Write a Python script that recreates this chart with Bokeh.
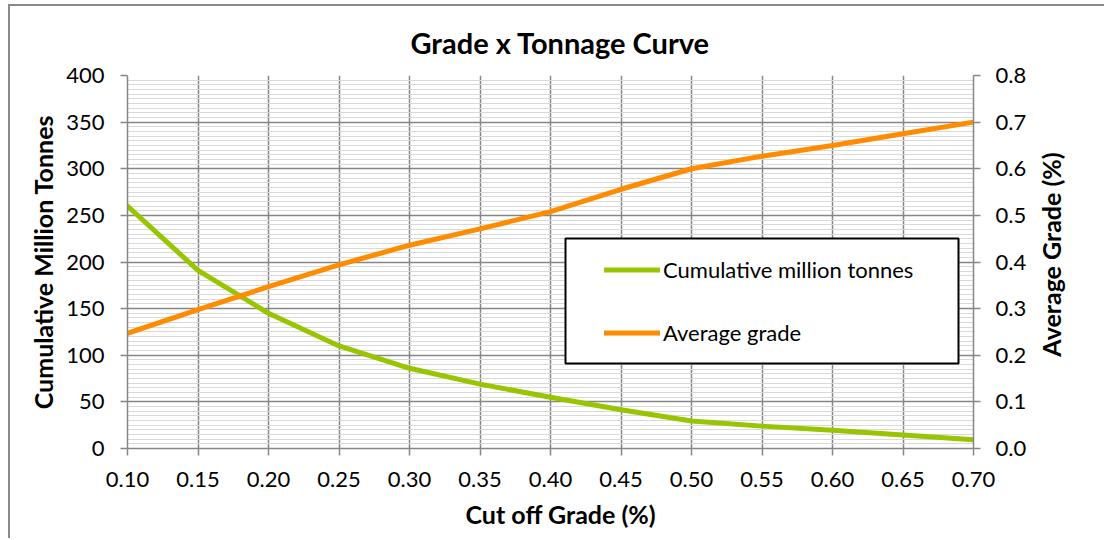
import math
import numpy as np
from bokeh.plotting import figure
from bokeh.models import (LinearAxis, Range1d, FixedTicker, PrintfTickFormatter,
                          Legend, LegendItem, BoxAnnotation, Title, Label)
from bokeh.embed import file_html
from bokeh.resources import INLINE

# ---- data ----
cutoff = [0.10, 0.15, 0.20, 0.25, 0.30, 0.35, 0.40, 0.45, 0.50, 0.55, 0.60, 0.65, 0.70]
tonnes = [260, 191, 145, 110, 86, 69, 55, 41.5, 29.5, 24, 19.5, 14.5, 9.5]
grade = [0.247, 0.298, 0.347, 0.394, 0.436, 0.471, 0.508, 0.556, 0.600, 0.627, 0.650, 0.675, 0.700]

x_ticks = [0.10, 0.15, 0.20, 0.25, 0.30, 0.35, 0.40, 0.45, 0.50, 0.55, 0.60, 0.65, 0.70]
left_ticks = [0, 50, 100, 150, 200, 250, 300, 350, 400]
right_ticks = [0.0, 0.1, 0.2, 0.3, 0.4, 0.5, 0.6, 0.7, 0.8]

title_text = "Grade x Tonnage Curve"
x_label = "Cut off Grade (%)"
left_label = "Cumulative Million Tonnes"
right_label = "Average Grade (%)"
series_names = ["Cumulative million tonnes", "Average grade"]

# ---- style ----
FONT = "Lato"
GRID = "#868686"
MINOR = "#d9d9d9"
GREEN = "#99C400"
ORANGE = "#FF8C00"
TICK_SIZE = "22px"
AXLBL_SIZE = "25px"

p = figure(frame_width=846, frame_height=373,
           min_border_left=117, min_border_top=69,
           min_border_right=138, min_border_bottom=90,
           x_range=Range1d(0.10, 0.70), y_range=Range1d(0, 400),
           output_backend="svg", toolbar_location=None,
           title=title_text,
           styles={"margin-top": "4px", "margin-left": "8px",
                   "border-top": "2px solid #898989",
                   "border-left": "2px solid #898989"})
p.extra_y_ranges = {"grade": Range1d(0, 0.8)}
p.outline_line_color = None
p.background_fill_color = "white"
p.border_fill_color = "white"

p.title.align = "left"
p.title.offset = 283
p.title.standoff = 32
p.title.text_font = FONT
p.title.text_font_size = "29px"
p.title.text_font_style = "bold"
p.title.text_color = "black"

xt = FixedTicker(ticks=x_ticks)
yt = FixedTicker(ticks=left_ticks, minor_ticks=list(np.arange(0, 401, 5)))

p.xaxis.ticker = xt
p.xaxis.formatter = PrintfTickFormatter(format="%.2f")
p.yaxis.ticker = yt
p.yaxis.formatter = PrintfTickFormatter(format="%d")
p.xgrid.ticker = xt
p.ygrid.ticker = yt

p.xgrid.grid_line_color = GRID
p.xgrid.grid_line_width = 1.5
p.ygrid.grid_line_color = GRID
p.ygrid.grid_line_width = 1.5
p.ygrid.minor_grid_line_color = MINOR
p.ygrid.minor_grid_line_width = 1.2

ax_r = LinearAxis(y_range_name="grade", ticker=FixedTicker(ticks=right_ticks),
                  formatter=PrintfTickFormatter(format="%.1f"))
p.add_layout(ax_r, "right")

p.yaxis[0].axis_label = left_label

for ax in [p.xaxis[0], p.yaxis[0], ax_r]:
    ax.axis_line_color = GRID
    ax.axis_line_width = 1.5
    ax.major_tick_line_color = GRID
    ax.major_tick_line_width = 1.5
    ax.major_tick_out = 7
    ax.major_tick_in = 0
    ax.minor_tick_line_color = None
    ax.major_label_text_font = FONT
    ax.major_label_text_font_size = TICK_SIZE
    ax.major_label_text_color = "black"
    ax.axis_label_text_font = FONT
    ax.axis_label_text_font_size = AXLBL_SIZE
    ax.axis_label_text_font_style = "bold"
    ax.axis_label_text_color = "black"

p.yaxis[0].major_label_standoff = 16
p.yaxis[0].axis_label_standoff = 5
ax_r.major_label_standoff = 15
p.xaxis[0].major_label_standoff = 16

# right-hand axis title, reading bottom-to-top as in the reference
rtitle = Label(x=21, y=194, x_units="screen", y_units="screen", text=right_label,
               angle=math.pi / 2, text_align="center", text_baseline="middle",
               text_font=FONT, text_font_size=AXLBL_SIZE, text_font_style="bold",
               text_color="black")
p.add_layout(rtitle, "right")

# x-axis title, sitting slightly right of centre as in the reference
xtitle = Title(text=x_label, align="left", offset=338, standoff=15,
               text_font=FONT, text_font_size=AXLBL_SIZE, text_font_style="bold",
               text_color="black")
p.add_layout(xtitle, "below")

r1 = p.line(cutoff, tonnes, line_color=GREEN, line_width=5,
            line_cap="round", line_join="round")
r2 = p.line(cutoff, grade, y_range_name="grade", line_color=ORANGE, line_width=5,
            line_cap="round", line_join="round")

box = BoxAnnotation(left=438, right=831, bottom=85, top=210,
                    left_units="screen", right_units="screen",
                    bottom_units="screen", top_units="screen",
                    fill_color="white", fill_alpha=1.0,
                    line_color="black", line_alpha=1.0, line_width=2)
p.add_layout(box)

legend = Legend(items=[LegendItem(label=series_names[0], renderers=[r1]),
                       LegendItem(label=series_names[1], renderers=[r2])],
                location=(477, 102), padding=0, spacing=36,
                glyph_width=56, glyph_height=27, label_height=27,
                label_standoff=3, label_text_font=FONT,
                label_text_font_size=TICK_SIZE, label_text_color="black",
                border_line_color=None, background_fill_alpha=0)
p.add_layout(legend)

open("out.html", "w").write(file_html(p, INLINE))
